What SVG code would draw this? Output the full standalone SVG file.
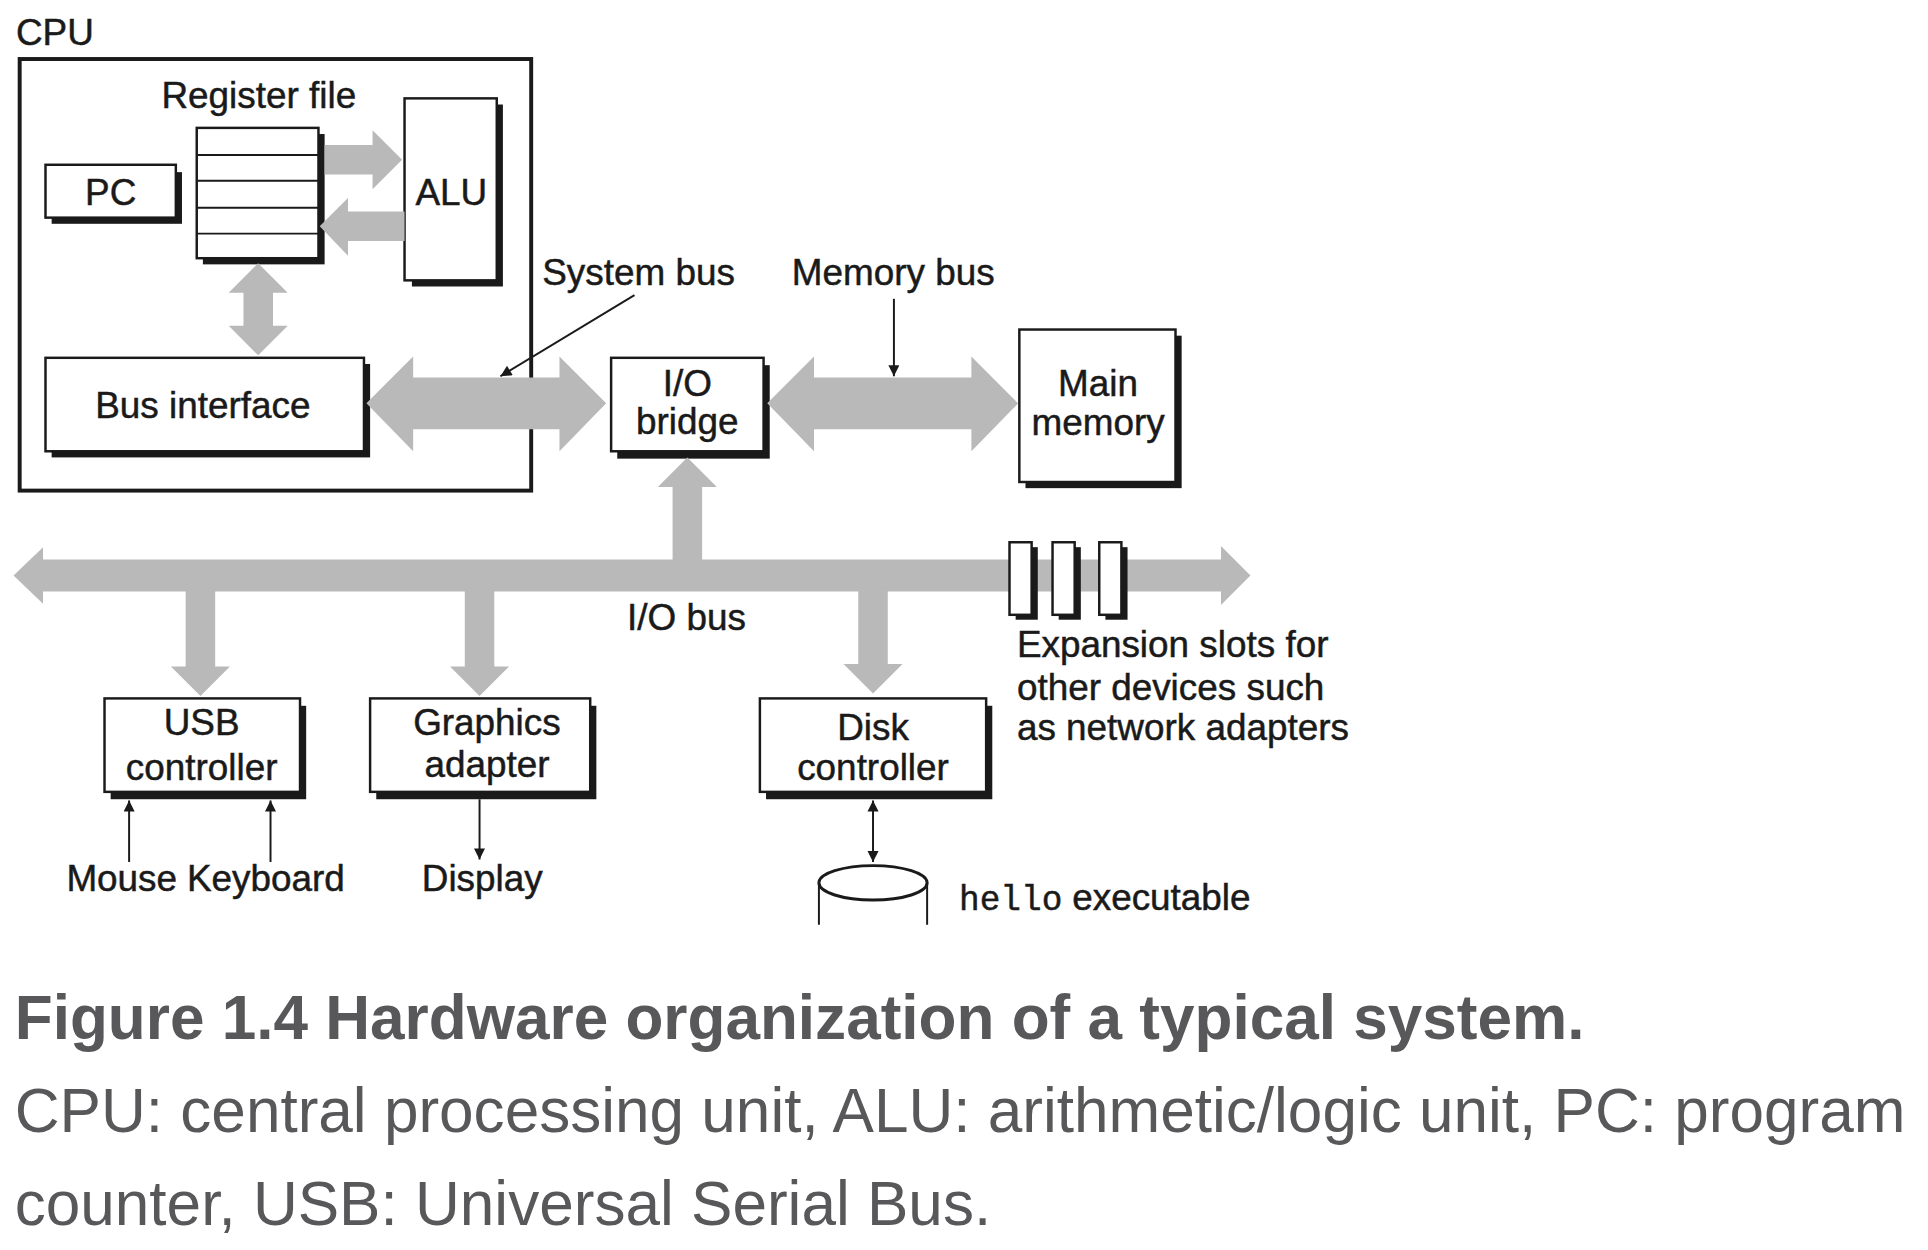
<svg xmlns="http://www.w3.org/2000/svg" width="1928" height="1250" viewBox="0 0 1928 1250">
<defs>
<style>
.t{font-family:"Liberation Sans",Arial,sans-serif;font-size:30px;fill:#1a1a1a;stroke:#1a1a1a;stroke-width:0.4}
.m{text-anchor:middle}
.box{fill:#fff;stroke:#1a1a1a;stroke-width:2}
.sh{fill:#1a1a1a}
.bus{fill:#b9b9b9}
.ln{stroke:#1a1a1a;stroke-width:1.6;fill:none}
.cap{font-family:"Liberation Sans",Arial,sans-serif;font-size:50.5px;fill:#58585a}
</style>
<marker id="ah" viewBox="0 0 10 10" refX="10" refY="5" markerWidth="10" markerHeight="9" markerUnits="userSpaceOnUse" orient="auto-start-reverse">
<path d="M0,0 L10,5 L0,10 z" fill="#1a1a1a"/>
</marker>
</defs>
<rect width="1928" height="1250" fill="#fff"/>
<g transform="scale(1.2296)">
<g id="cpu">
<text class="t" x="13" y="37">CPU</text>
<rect x="16" y="48" width="416" height="351" fill="none" stroke="#1a1a1a" stroke-width="3.2"/>
</g>
<g id="pc">
<rect class="sh" x="42" y="140" width="106" height="42"/>
<rect class="box" x="37" y="134" width="106" height="43"/>
<text class="t m" x="90" y="167">PC</text>
</g>
<g id="regfile">
<text class="t m" x="210.5" y="88">Register file</text>
<rect class="sh" x="165" y="109" width="99" height="106"/>
<rect class="box" x="160" y="104" width="99" height="106"/>
<path class="ln" d="M160,126H259M160,147H259M160,169H259M160,190H259" stroke-width="2"/>
</g>
<g id="alu">
<rect class="sh" x="335" y="85" width="74" height="148"/>
<rect class="box" x="329" y="80" width="75" height="148"/>
<text class="t m" x="367" y="167">ALU</text>
</g>
<g id="busif">
<rect class="sh" x="42" y="296" width="259" height="76"/>
<rect class="box" x="37" y="291" width="259" height="76"/>
<text class="t m" x="165" y="340">Bus interface</text>
</g>
<g id="iobridge">
<rect class="sh" x="502" y="297" width="124" height="76"/>
<rect class="box" x="497" y="291" width="124" height="76"/>
<text class="t m" x="559" y="322">I/O</text>
<text class="t m" x="559" y="353">bridge</text>
</g>
<g id="mainmem">
<rect class="sh" x="834" y="273" width="127" height="124"/>
<rect class="box" x="829" y="268" width="127" height="124"/>
<text class="t m" x="893" y="322">Main</text>
<text class="t m" x="893" y="354">memory</text>
</g>
<g id="usb">
<rect class="sh" x="90" y="574" width="159" height="76"/>
<rect class="box" x="85" y="568" width="159" height="76"/>
<text class="t m" x="164" y="598">USB</text>
<text class="t m" x="164" y="634">controller</text>
</g>
<g id="graphics">
<rect class="sh" x="306" y="574" width="179" height="76"/>
<rect class="box" x="301" y="568" width="179" height="76"/>
<text class="t m" x="396" y="598">Graphics</text>
<text class="t m" x="396" y="632">adapter</text>
</g>
<g id="disk">
<rect class="sh" x="623" y="574" width="184" height="76"/>
<rect class="box" x="618" y="568" width="184" height="76"/>
<text class="t m" x="710" y="602">Disk</text>
<text class="t m" x="710" y="634">controller</text>
</g>
<g id="connectors">
<polygon class="bus" points="264,118 303,118 303,106 327,130 303,154 303,142 264,142"/>
<polygon class="bus" points="260,184 283,161 283,172 329,172 329,196 283,196 283,208"/>
<polygon class="bus" points="210,214 234,238 222,238 222,265 234,265 210,289 186,265 198,265 198,238 186,238"/>
<polygon class="bus" points="298,328 336,290 336,307 455,307 455,290 493,328 455,367 455,349 336,349 336,367"/>
<polygon class="bus" points="624,328 662,290 662,307 790,307 790,290 828,328 790,367 790,349 662,349 662,367"/>
<polygon class="bus" points="559,372 583,396 571,396 571,460 547,460 547,396 535,396"/>
<polygon class="bus" points="11,468 35,445 35,455 993,455 993,444 1017,468 993,492 993,481 35,481 35,491"/>
<polygon class="bus" points="151,478 175,478 175,542 187,542 163,566 139,542 151,542"/>
<polygon class="bus" points="378,478 402,478 402,542 414,542 390,566 366,542 378,542"/>
<polygon class="bus" points="698,478 722,478 722,540 734,540 710,564 686,540 698,540"/>
<line class="ln" x1="516" y1="240" x2="407" y2="306" marker-end="url(#ah)"/>
<line class="ln" x1="727" y1="243" x2="727" y2="306" marker-end="url(#ah)"/>
<line class="ln" x1="105" y1="701" x2="105" y2="651" marker-end="url(#ah)"/>
<line class="ln" x1="220" y1="701" x2="220" y2="651" marker-end="url(#ah)"/>
<line class="ln" x1="390" y1="650" x2="390" y2="699" marker-end="url(#ah)"/>
<line class="ln" x1="710" y1="651" x2="710" y2="701" marker-start="url(#ah)" marker-end="url(#ah)"/>
</g>
<g id="labels">
<text class="t" x="441" y="232">System bus</text>
<text class="t" x="644" y="232">Memory bus</text>
<text class="t" x="510" y="512">I/O bus</text>
<text class="t" x="54" y="725">Mouse</text>
<text class="t" x="152" y="725">Keyboard</text>
<text class="t" x="343" y="725">Display</text>
</g>
<g id="slots">
<rect class="sh" x="826" y="445" width="18" height="59"/>
<rect class="box" x="821" y="441" width="18" height="59"/>
<rect class="sh" x="861" y="445" width="18" height="59"/>
<rect class="box" x="856" y="441" width="18" height="59"/>
<rect class="sh" x="899" y="445" width="18" height="59"/>
<rect class="box" x="894" y="441" width="18" height="59"/>
<text class="t" x="827" y="534">Expansion slots for</text>
<text class="t" x="827" y="569">other devices such</text>
<text class="t" x="827" y="602">as network adapters</text>
</g>
<g id="diskdrive">
<path class="ln" d="M666,718V752M754,718V752" stroke-width="2.4"/>
<ellipse cx="710" cy="718" rx="44" ry="14" fill="#fff" stroke="#1a1a1a" stroke-width="2.4"/>
<text x="780" y="740" style="font-family:'Liberation Mono','Courier New',monospace;font-size:28px;fill:#1a1a1a;stroke:#1a1a1a;stroke-width:0.4">hello</text>
<text class="t" x="872" y="740">executable</text>
</g>
<g id="caption">
<text class="cap" x="12" y="845" font-weight="bold">Figure 1.4 Hardware organization of a typical system.</text>
<text class="cap" x="12" y="921">CPU: central processing unit, ALU: arithmetic/logic unit, PC: program</text>
<text class="cap" x="12" y="996">counter, USB: Universal Serial Bus.</text>
</g>
</g>
</svg>
